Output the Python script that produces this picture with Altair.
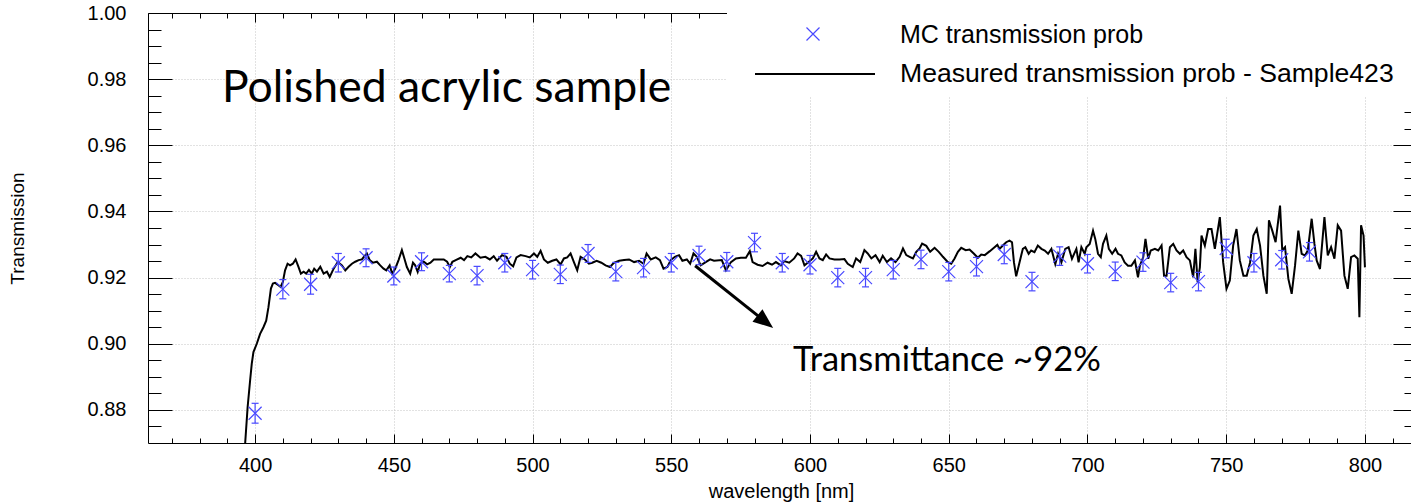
import altair as alt
import pandas as pd

# ---------------- data ----------------
meas_nm = [396.4, 397.3, 398.2, 398.8, 399.4, 400.6, 401.8, 403.0, 404.0, 404.8,
           405.7, 406.4, 407.2, 408.4, 409.2, 410.0, 410.8, 411.7, 412.6, 413.6,
           414.6, 415.6, 416.5, 417.5, 418.4, 419.4, 420.4, 421.3, 422.3, 423.5,
           424.7, 425.9, 426.9, 428.3, 429.8, 431.3, 432.5, 433.7, 434.9, 436.1,
           437.3, 438.5, 439.4, 440.3, 441.3, 442.5, 443.9, 445.1, 446.3, 447.3,
           448.5, 449.4, 450.5, 451.7, 452.9, 453.8, 454.7, 455.9, 456.9, 457.7,
           458.6, 459.5, 460.8, 462.0, 463.2, 464.4, 466.2, 468.0, 469.2, 470.2,
           471.1, 472.3, 474.1, 475.3, 476.5, 477.9, 479.4, 481.2, 483.0, 484.6,
           486.0, 487.2, 489.0, 490.6, 491.8, 493.0, 494.2, 495.7, 497.5, 499.0,
           500.5, 501.7, 502.9, 504.1, 505.5, 507.1, 508.6, 510.1, 511.3, 512.5,
           513.7, 514.9, 516.1, 517.3, 518.8, 520.3, 521.5, 523.1, 524.8, 526.3,
           527.9, 529.3, 531.2, 533.0, 534.8, 536.6, 538.4, 540.0, 541.1, 542.6,
           544.4, 545.9, 547.2, 548.6, 549.8, 551.3, 552.8, 554.0, 555.6, 556.8,
           558.0, 559.2, 560.6, 562.4, 564.0, 565.4, 568.2, 569.7, 571.5, 573.3,
           575.1, 576.9, 578.3, 579.3, 581.1, 582.9, 584.7, 586.3, 587.7, 589.5,
           590.7, 592.5, 594.3, 595.5, 596.8, 598.0, 599.5, 601.0, 602.2, 603.4,
           604.6, 605.8, 607.0, 608.8, 610.6, 612.4, 613.6, 615.4, 616.6, 618.1,
           619.6, 620.8, 622.1, 623.6, 625.1, 626.2, 627.7, 629.2, 630.8, 632.3,
           633.5, 634.7, 635.9, 637.1, 638.3, 639.5, 640.4, 641.9, 643.3, 644.9,
           646.4, 647.9, 649.7, 650.9, 652.1, 653.3, 654.5, 656.1, 657.5, 659.0,
           660.5, 661.7, 663.0, 664.8, 666.5, 667.5, 668.3, 669.5, 670.7, 671.9,
           672.8, 673.5, 674.3, 675.5, 676.7, 677.6, 678.8, 679.7, 680.9, 682.1,
           683.4, 684.6, 685.8, 687.0, 688.4, 689.4, 690.6, 692.0, 693.2, 694.4,
           696.0, 696.8, 697.8, 699.0, 699.6, 700.8, 702.0, 702.8, 703.8, 704.8,
           705.6, 706.8, 707.7, 708.9, 710.1, 711.0, 712.2, 713.4, 714.6, 715.8,
           717.1, 718.2, 718.9, 720.1, 720.9, 721.9, 722.8, 724.3, 725.5, 726.7,
           727.6, 728.5, 729.7, 730.9, 732.1, 733.3, 734.5, 735.7, 736.9, 738.1,
           738.9, 739.7, 740.5, 741.1, 742.3, 743.5, 744.7, 745.9, 747.7, 748.9,
           750.1, 751.3, 752.5, 753.7, 754.9, 756.2, 757.4, 758.6, 759.8, 761.0,
           762.2, 763.4, 764.6, 765.4, 766.6, 767.8, 769.4, 770.2, 771.2, 772.4,
           773.6, 774.8, 776.0, 777.2, 778.4, 779.4, 780.8, 781.8, 782.6, 783.8,
           785.4, 786.6, 787.8, 789.0, 790.2, 791.4, 792.6, 793.8, 795.0, 796.2,
           797.4, 798.0, 798.6, 799.5, 800.0]
meas_t = [0.8697, 0.8808, 0.8889, 0.8940, 0.8975, 0.9000, 0.9030, 0.9050, 0.9070, 0.9110,
          0.9167, 0.9182, 0.9184, 0.9177, 0.9172, 0.9187, 0.9222, 0.9242, 0.9237, 0.9242,
          0.9255, 0.9233, 0.9212, 0.9218, 0.9212, 0.9223, 0.9212, 0.9227, 0.9218, 0.9233,
          0.9212, 0.9218, 0.9202, 0.9227, 0.9247, 0.9237, 0.9222, 0.9233, 0.9242, 0.9248,
          0.9253, 0.9255, 0.9265, 0.9273, 0.9253, 0.9245, 0.9248, 0.9237, 0.9227, 0.9222,
          0.9237, 0.9212, 0.9227, 0.9253, 0.9283, 0.9258, 0.9232, 0.9212, 0.9245, 0.9237,
          0.9217, 0.9242, 0.9248, 0.9240, 0.9245, 0.9255, 0.9255, 0.9255, 0.9248, 0.9232,
          0.9248, 0.9253, 0.9260, 0.9253, 0.9265, 0.9261, 0.9273, 0.9260, 0.9263, 0.9255,
          0.9265, 0.9251, 0.9268, 0.9263, 0.9242, 0.9234, 0.9261, 0.9268, 0.9265, 0.9261,
          0.9273, 0.9263, 0.9281, 0.9255, 0.9245, 0.9251, 0.9255, 0.9240, 0.9258, 0.9261,
          0.9273, 0.9247, 0.9222, 0.9263, 0.9255, 0.9242, 0.9245, 0.9251, 0.9245, 0.9237,
          0.9232, 0.9245, 0.9251, 0.9253, 0.9255, 0.9247, 0.9251, 0.9242, 0.9273, 0.9255,
          0.9261, 0.9253, 0.9227, 0.9232, 0.9253, 0.9263, 0.9268, 0.9251, 0.9255, 0.9242,
          0.9273, 0.9263, 0.9237, 0.9247, 0.9255, 0.9251, 0.9253, 0.9222, 0.9247, 0.9258,
          0.9260, 0.9260, 0.9280, 0.9247, 0.9239, 0.9235, 0.9245, 0.9239, 0.9247, 0.9237,
          0.9250, 0.9245, 0.9258, 0.9273, 0.9266, 0.9237, 0.9247, 0.9258, 0.9278, 0.9258,
          0.9253, 0.9270, 0.9258, 0.9255, 0.9255, 0.9256, 0.9242, 0.9232, 0.9258, 0.9247,
          0.9283, 0.9273, 0.9258, 0.9268, 0.9247, 0.9266, 0.9247, 0.9258, 0.9247, 0.9263,
          0.9288, 0.9268, 0.9263, 0.9258, 0.9278, 0.9288, 0.9303, 0.9296, 0.9278, 0.9290,
          0.9278, 0.9263, 0.9247, 0.9242, 0.9258, 0.9278, 0.9290, 0.9283, 0.9285, 0.9273,
          0.9260, 0.9270, 0.9268, 0.9280, 0.9292, 0.9299, 0.9287, 0.9297, 0.9307, 0.9312,
          0.9307, 0.9246, 0.9204, 0.9246, 0.9287, 0.9292, 0.9272, 0.9282, 0.9277, 0.9297,
          0.9287, 0.9282, 0.9272, 0.9287, 0.9241, 0.9272, 0.9246, 0.9287, 0.9292, 0.9257,
          0.9287, 0.9246, 0.9292, 0.9272, 0.9292, 0.9302, 0.9342, 0.9317, 0.9272, 0.9262,
          0.9302, 0.9327, 0.9287, 0.9272, 0.9287, 0.9272, 0.9267, 0.9246, 0.9236, 0.9236,
          0.9252, 0.9201, 0.9236, 0.9262, 0.9317, 0.9257, 0.9282, 0.9287, 0.9282, 0.9297,
          0.9206, 0.9206, 0.9292, 0.9302, 0.9282, 0.9272, 0.9282, 0.9262, 0.9252, 0.9201,
          0.9287, 0.9186, 0.9231, 0.9327, 0.9297, 0.9347, 0.9347, 0.9287, 0.9383, 0.9246,
          0.9166, 0.9191, 0.9297, 0.9347, 0.9252, 0.9206, 0.9206, 0.9246, 0.9327, 0.9347,
          0.9297, 0.9206, 0.9151, 0.9373, 0.9342, 0.9307, 0.9418, 0.9282, 0.9292, 0.9196,
          0.9151, 0.9236, 0.9342, 0.9272, 0.9267, 0.9282, 0.9378, 0.9302, 0.9252, 0.9226,
          0.9383, 0.9267, 0.9292, 0.9257, 0.9358, 0.9342, 0.9206, 0.9166, 0.9262, 0.9267,
          0.9257, 0.9080, 0.9358, 0.9327, 0.9231]

mc_nm = [400, 410, 420, 430, 440, 450, 460, 470, 480, 490, 500, 510, 520, 530,
         540, 550, 560, 570, 580, 590, 600, 610, 620, 630, 640, 650, 660, 670,
         680, 690, 700, 710, 720, 730, 740, 750, 760, 770, 780]
mc_t = [0.8790, 0.9165, 0.9180, 0.9245, 0.9260, 0.9205, 0.9248, 0.9212, 0.9206,
        0.9245, 0.9224, 0.9210, 0.9273, 0.9218, 0.9230, 0.9245, 0.9267, 0.9248,
        0.9306, 0.9245, 0.9239, 0.9200, 0.9200, 0.9224, 0.9255, 0.9218, 0.9233,
        0.9270, 0.9188, 0.9265, 0.9242, 0.9219, 0.9247, 0.9185, 0.9188, 0.9288,
        0.9245, 0.9254, 0.9278]
mc_err = [0.0030, 0.0029, 0.0030, 0.0028, 0.0027, 0.0027, 0.0027, 0.0025, 0.0028,
          0.0028, 0.0028, 0.0028, 0.0027, 0.0028, 0.0028, 0.0028, 0.0028, 0.0028,
          0.0028, 0.0028, 0.0028, 0.0028, 0.0028, 0.0028, 0.0028, 0.0028, 0.0028,
          0.0028, 0.0028, 0.0028, 0.0028, 0.0028, 0.0028, 0.0028, 0.0028, 0.0028,
          0.0028, 0.0028, 0.0028]

x_major = [400, 450, 500, 550, 600, 650, 700, 750, 800]
y_major = [0.88, 0.90, 0.92, 0.94, 0.96, 0.98, 1.00]
x_minor = list(range(370, 811, 10))
y_minor = [round(0.875 + 0.005 * i, 3) for i in range(26)]

legend_labels = ["MC transmission prob", "Measured transmission prob - Sample423"]
title_text = ["Polished acrylic sample"]
note_text = ["Transmittance ~92%"]
title_pos = [388.1, 0.9730]
note_pos = [593.9, 0.8918]
arrow_from = [558.6, 0.9236]
arrow_line_to = [584.0, 0.9066]
arrow_tip = [586.7, 0.9048]

X_DOMAIN = [361.4, 816.6]
Y_DOMAIN = [0.87, 1.0]
W, H = 1263, 430

FONT = "Liberation Sans"
NOTE_FONT = "Lato"
BLUE = "#4848ff"
CROSS = "M-1,-1L1,1M-1,1L1,-1"
HEAD = "M0,0L-2,-0.8L-2,0.8Z"

meas_df = pd.DataFrame({"nm": meas_nm, "t": meas_t})
mc_df = pd.DataFrame({"nm": mc_nm, "t": mc_t, "err": mc_err})
mc_df["lo"] = mc_df["t"] - mc_df["err"]
mc_df["hi"] = mc_df["t"] + mc_df["err"]

xs = alt.Scale(domain=X_DOMAIN, nice=False, zero=False)
ys = alt.Scale(domain=Y_DOMAIN, nice=False, zero=False)

X_MAJOR_TEST = "datum.value % 50 == 0"
Y_MAJOR_TEST = "abs(datum.value * 50 - round(datum.value * 50)) < 0.001"

# axes: labelled axes + inward tick axes on all four frame sides
axA = alt.Axis(orient="left", values=y_major, format=".2f", ticks=False, tickSize=0,
               domain=True, domainColor="#000000", domainWidth=1,
               grid=True, gridColor="#c4c4c4", gridDash=[1, 2], gridWidth=1,
               labelFont=FONT, labelFontSize=20, labelColor="#000000", labelPadding=22,
               title="Transmission", titleFont=FONT, titleFontSize=19,
               titleFontWeight="normal", titleColor="#000000", titleX=-131, titleY=215,
               titleAlign="center", titleBaseline="middle", titleAngle=270, zindex=0)
axD = alt.Axis(orient="bottom", values=x_major, format="d", ticks=False, tickSize=0,
               domain=True, domainColor="#000000", domainWidth=1,
               grid=True, gridColor="#c4c4c4", gridDash=[1, 2], gridWidth=1,
               labelFont=FONT, labelFontSize=20, labelColor="#000000", labelPadding=12,
               labelFlush=False,
               title="wavelength [nm]", titleFont=FONT, titleFontSize=20,
               titleFontWeight="normal", titleColor="#000000", titleX=633, titleY=48,
               titleAlign="center", titleBaseline="middle", zindex=0)
axB = alt.Axis(orient="right", offset=-W, values=y_minor, labels=False, domain=False,
               grid=False, ticks=True, tickColor="#000000", tickWidth=1,
               tickSize={"condition": {"test": Y_MAJOR_TEST, "value": 24}, "value": 13},
               title="", zindex=0)
axC = alt.Axis(orient="left", offset=-W, values=y_minor, labels=False, domain=True,
               domainColor="#000000", grid=False, ticks=True, tickColor="#000000",
               tickWidth=1,
               tickSize={"condition": {"test": Y_MAJOR_TEST, "value": 18}, "value": 7},
               title="", zindex=0)
axE = alt.Axis(orient="top", offset=-H, values=x_minor, labels=False, domain=False,
               grid=False, ticks=True, tickColor="#000000", tickWidth=1,
               tickSize={"condition": {"test": X_MAJOR_TEST, "value": 9}, "value": 5},
               title="", zindex=0)
axF = alt.Axis(orient="bottom", offset=-H, values=x_minor, labels=False, domain=True,
               domainColor="#000000", grid=False, ticks=True, tickColor="#000000",
               tickWidth=1,
               tickSize={"condition": {"test": X_MAJOR_TEST, "value": 9}, "value": 5},
               title="", zindex=0)

line = alt.Chart(meas_df).mark_line(color="black", strokeWidth=2).encode(
    x=alt.X("nm:Q", scale=xs, axis=axD),
    y=alt.Y("t:Q", scale=ys, axis=axA),
)
errs = alt.Chart(mc_df).mark_rule(color=BLUE, strokeWidth=1.2).encode(
    x=alt.X("nm:Q", scale=xs, axis=axF),
    y=alt.Y("lo:Q", scale=ys, axis=axC),
    y2="hi:Q",
)
cap_lo = alt.Chart(mc_df).mark_tick(orient="horizontal", size=7, thickness=1.2,
                                    color=BLUE, opacity=1).encode(
    x=alt.X("nm:Q", scale=xs, axis=None),
    y=alt.Y("lo:Q", scale=ys, axis=None),
)
cap_hi = alt.Chart(mc_df).mark_tick(orient="horizontal", size=7, thickness=1.2,
                                    color=BLUE, opacity=1).encode(
    x=alt.X("nm:Q", scale=xs, axis=None),
    y=alt.Y("hi:Q", scale=ys, axis=None),
)
pts = alt.Chart(mc_df).mark_point(shape=CROSS, size=169, filled=False, strokeWidth=1.2,
                                  color=BLUE, opacity=1).encode(
    x=alt.X("nm:Q", scale=xs, axis=axE),
    y=alt.Y("t:Q", scale=ys, axis=axB),
)

arrow_df = pd.DataFrame({"x0": [arrow_from[0]], "y0": [arrow_from[1]],
                         "x1": [arrow_line_to[0]], "y1": [arrow_line_to[1]],
                         "xt": [arrow_tip[0]], "yt": [arrow_tip[1]]})
arrow_line = alt.Chart(arrow_df).mark_rule(color="black", strokeWidth=3).encode(
    x=alt.X("x0:Q", scale=xs, axis=None), y=alt.Y("y0:Q", scale=ys, axis=None),
    x2="x1:Q", y2="y1:Q")
arrow_head = alt.Chart(arrow_df).mark_point(shape=HEAD, size=400, filled=True,
                                            angle=38.5, color="black", opacity=1,
                                            strokeWidth=0).encode(
    x=alt.X("xt:Q", scale=xs, axis=None), y=alt.Y("yt:Q", scale=ys, axis=None))

ann_df = pd.DataFrame({"x": [title_pos[0], note_pos[0]], "y": [title_pos[1], note_pos[1]],
                       "label": [title_text[0], note_text[0]]})
ann1 = alt.Chart(ann_df.iloc[[0]]).mark_text(align="left", baseline="alphabetic",
                                             font=NOTE_FONT, fontSize=44.5,
                                             color="black").encode(
    x=alt.X("x:Q", scale=xs, axis=None), y=alt.Y("y:Q", scale=ys, axis=None),
    text="label:N")
ann2 = alt.Chart(ann_df.iloc[[1]]).mark_text(align="left", baseline="alphabetic",
                                             font=NOTE_FONT, fontSize=34.5,
                                             color="black").encode(
    x=alt.X("x:Q", scale=xs, axis=None), y=alt.Y("y:Q", scale=ys, axis=None),
    text="label:N")

# legend box (white, drawn over the frame like a ROOT TLegend)
leg_box = alt.Chart(pd.DataFrame({"a": [0]})).mark_rect(color="white").encode(
    x=alt.value(579), x2=alt.value(W), y=alt.value(-13), y2=alt.value(84))
leg_pt = alt.Chart(pd.DataFrame({"a": [0]})).mark_point(
    shape=CROSS, size=169, filled=False, strokeWidth=1.2, color=BLUE, opacity=1).encode(
    x=alt.value(665), y=alt.value(21))
leg_line = alt.Chart(pd.DataFrame({"a": [0]})).mark_rule(color="black", strokeWidth=2).encode(
    x=alt.value(607), x2=alt.value(727), y=alt.value(61))
leg_t1 = alt.Chart(pd.DataFrame({"a": [0]})).mark_text(
    align="left", baseline="middle", font=FONT, fontSize=25, color="black",
    text=legend_labels[0]).encode(x=alt.value(752), y=alt.value(22))
leg_t2 = alt.Chart(pd.DataFrame({"a": [0]})).mark_text(
    align="left", baseline="middle", font=FONT, fontSize=26.6, color="black",
    text=legend_labels[1]).encode(x=alt.value(752), y=alt.value(61))

chart = alt.layer(
    line, errs, cap_lo, cap_hi, pts, arrow_line, arrow_head, ann1, ann2,
    leg_box, leg_pt, leg_line, leg_t1, leg_t2,
).resolve_scale(x="shared", y="shared").resolve_axis(
    x="independent", y="independent"
).properties(
    width=W, height=H,
    autosize=alt.AutoSizeParams(type="none"),
    padding={"left": 148, "top": 13, "right": 0, "bottom": 61},
    background="white",
).configure_view(strokeWidth=0)

chart.save("out.html", embed_options={"renderer": "svg", "actions": False})
